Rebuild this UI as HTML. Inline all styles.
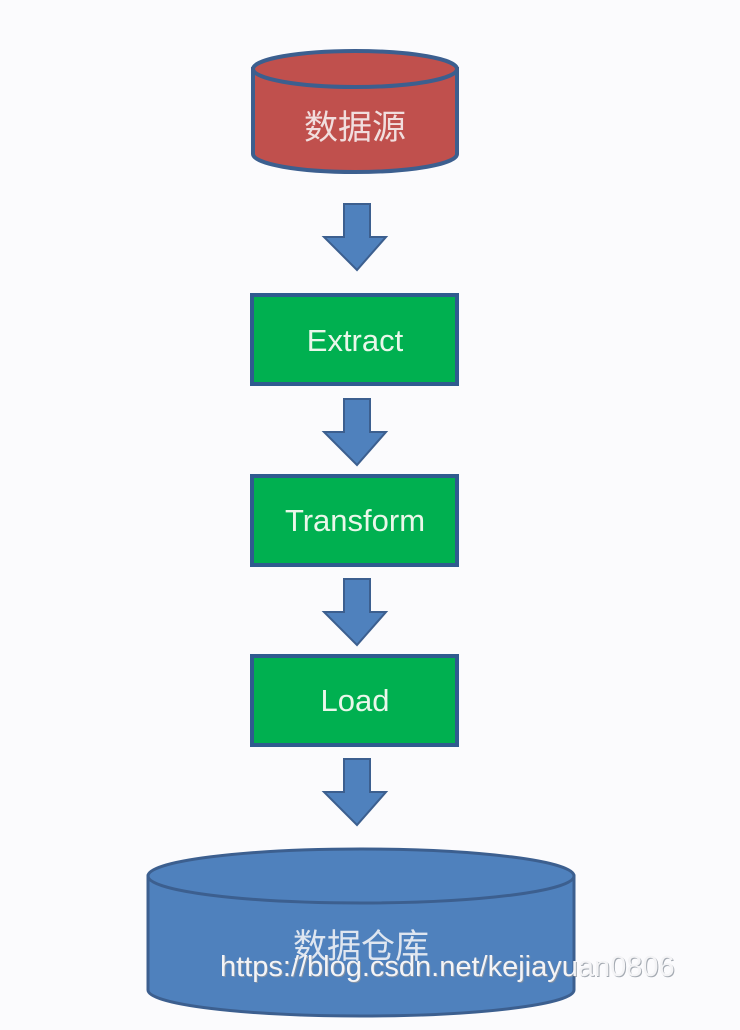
<!DOCTYPE html>
<html><head><meta charset="utf-8"><style>
html,body{margin:0;padding:0;background:#fbfbfd;}
svg{display:block}
</style></head><body>
<svg width="740" height="1030" viewBox="0 0 740 1030" xmlns="http://www.w3.org/2000/svg">
<rect width="740" height="1030" fill="#fbfbfd"/>
<!-- top cylinder -->
<path d="M253 69 L253 154 A102 18 0 0 0 457 154 L457 69 Z" fill="#c0504d" stroke="#3c5f8f" stroke-width="4"/>
<ellipse cx="355" cy="69" rx="102" ry="18" fill="#c0504d" stroke="#3c5f8f" stroke-width="4"/>
<text x="355" y="139" text-anchor="middle" font-family="'Liberation Sans','Noto Sans CJK SC',sans-serif" font-size="34" fill="#f1dede">数据源</text>
<!-- arrows -->
<g fill="#4f81bd" stroke="#3c5f8f" stroke-width="2">
<path d="M344 204 L370 204 L370 237 L386 237 L357 270 L324 237 L344 237 Z"/>
<path d="M344 399 L370 399 L370 432 L386 432 L357 465 L324 432 L344 432 Z"/>
<path d="M344 579 L370 579 L370 612 L386 612 L357 645 L324 612 L344 612 Z"/>
<path d="M344 759 L370 759 L370 792 L386 792 L357 825 L324 792 L344 792 Z"/>
</g>
<!-- boxes -->
<g fill="#00b050" stroke="#2f5b8f" stroke-width="4">
<rect x="252" y="295" width="205" height="89"/>
<rect x="252" y="476" width="205" height="89"/>
<rect x="252" y="656" width="205" height="89"/>
</g>
<g font-family="'Liberation Sans',sans-serif" font-size="31" fill="#eaf7ea" text-anchor="middle">
<text x="355" y="351">Extract</text>
<text x="355" y="531">Transform</text>
<text x="355" y="711">Load</text>
</g>
<!-- bottom cylinder -->
<path d="M148 876 L148 990 A213 26 0 0 0 574 990 L574 876 Z" fill="#4f81bd" stroke="#3c5f8f" stroke-width="3"/>
<ellipse cx="361" cy="876" rx="213" ry="27" fill="#4f81bd" stroke="#3c5f8f" stroke-width="3"/>
<text x="361" y="958" text-anchor="middle" font-family="'Liberation Sans','Noto Sans CJK SC',sans-serif" font-size="34" fill="#dfe6f0">数据仓库</text>
<text x="220" y="976" font-family="'Liberation Sans',sans-serif" font-size="29" fill="#8f96a0" opacity="0.8" transform="translate(1,1)">https://blog.csdn.net/kejiayuan0806</text>
<text x="220" y="976" font-family="'Liberation Sans',sans-serif" font-size="29" fill="#f4f4f6">https://blog.csdn.net/kejiayuan0806</text>
</svg>
</body></html>
